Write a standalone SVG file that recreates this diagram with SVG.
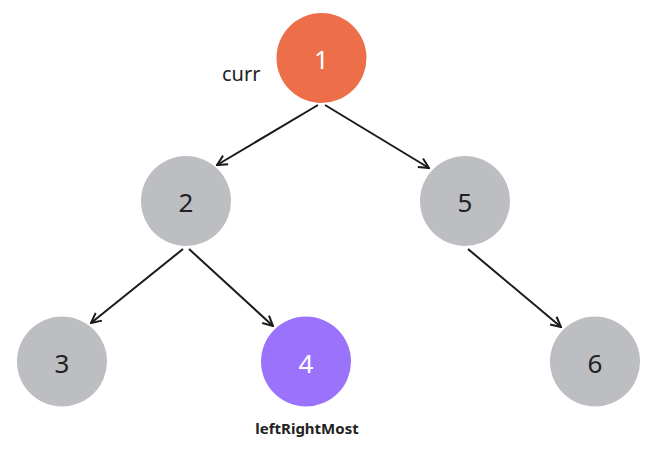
<svg xmlns="http://www.w3.org/2000/svg" width="660" height="460" viewBox="0 0 660 460">
<style>
.n{fill:#BCBEC2}
.t{font-family:"Noto Sans","Open Sans",sans-serif;font-size:26px;text-anchor:middle;fill:#222}
.w{fill:#fff}
.e{stroke:#1a1a1a;stroke-width:2;fill:none;marker-end:url(#ah)}
.l{font-family:"Noto Sans","Open Sans",sans-serif;fill:#222}
</style>
<defs>
<marker id="ah" viewBox="0 0 12 12" refX="11" refY="6" markerWidth="12" markerHeight="12" markerUnits="userSpaceOnUse" orient="auto">
<path d="M1,1 L11,6 L1,11" fill="none" stroke="#1a1a1a" stroke-width="2"/>
</marker>
</defs>
<rect width="660" height="460" fill="#fff"/>
<g id="edges">
<line class="e" x1="318" y1="105" x2="217" y2="165"/>
<line class="e" x1="325" y1="105" x2="429" y2="168"/>
<line class="e" x1="183" y1="249" x2="91" y2="323"/>
<line class="e" x1="189" y1="249" x2="273" y2="326"/>
<line class="e" x1="468" y1="249" x2="561" y2="327"/>
</g>
<g id="node1">
<circle cx="321.5" cy="58" r="45" fill="#EC6F4A"/>
<text class="t w" x="321.5" y="69">1</text>
<text class="l" x="222" y="81" font-size="20">curr</text>
</g>
<g id="node2">
<circle class="n" cx="186" cy="201" r="45"/>
<text class="t" x="186" y="212">2</text>
</g>
<g id="node5">
<circle class="n" cx="465" cy="201" r="45"/>
<text class="t" x="465" y="212">5</text>
</g>
<g id="node3">
<circle class="n" cx="62" cy="361.5" r="45"/>
<text class="t" x="62" y="372.5">3</text>
</g>
<g id="node4">
<circle cx="306" cy="361.5" r="45" fill="#9B72FB"/>
<text class="t w" x="306" y="372.5">4</text>
<text class="l" x="307" y="434" font-size="15" font-weight="bold" text-anchor="middle">leftRightMost</text>
</g>
<g id="node6">
<circle class="n" cx="595" cy="361.5" r="45"/>
<text class="t" x="595" y="372.5">6</text>
</g>
</svg>
